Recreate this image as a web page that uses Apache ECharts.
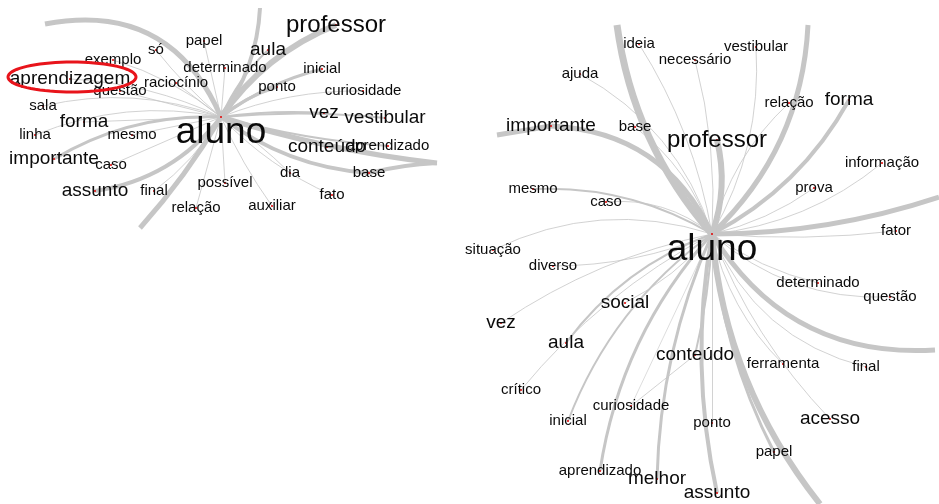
<!DOCTYPE html>
<html><head><meta charset="utf-8">
<script src="https://cdn.jsdelivr.net/npm/echarts@6/dist/echarts.min.js"></script>
<style>html,body{margin:0;padding:0;background:#fff}#c{width:939px;height:504px}</style>
</head><body><div id="c"></div>
<script>
// ===== Graph 1 (left, cropped) =====
const words1 = ['aluno','professor','papel','só','aula','exemplo','determinado','inicial','aprendizagem','raciocínio','questão','ponto','curiosidade','sala','forma','vez','vestibular','linha','mesmo','conteúdo','aprendizado','importante','caso','dia','base','possível','assunto','final','fato','relação','auxiliar'];
const x1 = [221,336,204,156,268,113,225,322,70,176,120,277,363,43,84,324,385,35,132,327,388,54,111,290,369,225,95,154,332,196,272];
const y1 = [117,25,41,50,50,60,68,69,79,83,91,87,91,106,122,113,118,135,135,147,146,159,165,173,173,183,191,191,195,208,206];
const freq1 = [4,3,1,1,2,1,1,1,2,1,1,1,1,1,2,2,2,1,1,2,1,2,1,1,1,1,2,1,1,1,1];
// edge ends leaving the cropped frame
const exitX1 = [45,140,260,437];
const exitY1 = [24,228,8,163];
const src1 = ['aluno','aluno','aluno','aluno','aluno','aluno','aluno','aluno','aluno','aluno','aluno','aluno','aluno','aluno','aluno','aluno','aluno','aluno','aluno','aluno','aluno','aluno','aluno','aluno','aluno','aluno','aluno','aluno','aluno','aluno','aluno','aluno','aluno','aluno','base'];
const dst1 = ['E0','E1','E2','E3','professor','papel','só','aula','exemplo','determinado','inicial','aprendizagem','raciocínio','questão','ponto','curiosidade','sala','forma','vez','vestibular','linha','mesmo','conteúdo','aprendizado','importante','caso','dia','base','possível','assunto','final','fato','relação','auxiliar','E3'];
const wgt1 = [5,5,4,5,6,1,1,2,1,1,3,1,1,1,3,1,1,1,2,2,1,1,2,2,3,1,1,4,1,4,1,1,1,1,4];

// ===== Graph 2 (right) =====
const words2 = ['aluno','ideia','vestibular','necessário','ajuda','relação','forma','importante','base','professor','informação','mesmo','caso','prova','fator','situação','diverso','determinado','questão','social','vez','aula','conteúdo','ferramenta','final','crítico','curiosidade','inicial','ponto','acesso','papel','aprendizado','melhor','assunto'];
const x2 = [712,639,756,695,580,789,849,551,635,717,882,533,606,814,896,493,553,818,890,625,501,566,695,783,866,521,631,568,712,830,774,600,657,717];
const y2 = [234,44,47,60,74,103,100,126,127,140,163,189,202,188,231,250,266,283,297,303,323,343,355,364,367,390,406,421,423,419,452,471,479,493];
const freq2 = [4,1,1,1,1,1,2,2,1,3,1,1,1,1,1,1,1,1,1,2,2,2,2,1,1,1,1,1,1,2,1,1,2,2];
const exitX2 = [617,808,497,939,935,820];
const exitY2 = [25,25,135,197,350,504];
const src2 = ['aluno','aluno','aluno','aluno','aluno','aluno','aluno','aluno','aluno','aluno','aluno','aluno','aluno','importante','aluno','aluno','aluno','aluno','aluno','aluno','aluno','aluno','aluno','aluno','aluno','aluno','aluno','aluno','aluno','aluno','aluno','aluno','conteúdo','aluno','aluno','aluno','aluno','aluno','aluno','aluno'];
const dst2 = ['E0','E1','E3','E4','E5','ideia','vestibular','necessário','ajuda','relação','forma','importante','base','E2','professor','informação','prova','fator','mesmo','caso','situação','diverso','determinado','questão','social','vez','aula','conteúdo','ferramenta','final','crítico','curiosidade','curiosidade','inicial','ponto','acesso','papel','aprendizado','melhor','assunto'];
const wgt2 = [7,5,5,5,6,1,1,1,1,1,4,5,1,5,6,1,1,1,2,1,1,1,1,1,1,1,2,2,1,1,1,0,1,2,1,1,3,3,3,4];

// ===== styling (not data) =====
const bend1 = [-0.4,0.05,-0.15,-0.05,0.15,0,0.05,0.1,-0.1,0,0.1,-0.1,0,0,0.1,0.1,-0.15,0,0.05,0.05,-0.15,0,0,-0.05,-0.15,0,0.05,-0.15,0,0.2,0.1,-0.1,0,-0.05,0.05];
const bend2 = [0.15,-0.2,-0.08,-0.3,-0.15,-0.1,-0.15,-0.08,-0.2,0.15,-0.15,-0.3,-0.15,0,-0.15,-0.15,-0.1,-0.05,-0.15,-0.2,-0.2,0.1,-0.1,-0.2,0.1,-0.1,-0.15,0.05,-0.15,-0.25,-0.1,0,0,-0.15,0,-0.1,-0.1,-0.15,-0.1,-0.1];
const FONT = [0,15,19,24,37];
const WIDTH = [0.6,0.8,2,3,4,5,6,7];
const EDGE = '#c6c6c6';
const CENTER_LABEL_SHIFT = 16;

function buildSeries(words, xs, ys, freq, ex, ey, src, dst, wgt, bend) {
  const nodes = words.map((w, i) => ({
    name: w, value: [xs[i], ys[i]],
    label: { show: true, fontSize: FONT[freq[i]], offset: [0, freq[i] === 4 ? CENTER_LABEL_SHIFT : 0] }
  }));
  ex.forEach((x, i) => nodes.push({ name: 'E' + i, value: [x, ey[i]], symbolSize: 0, label: { show: false } }));
  const links = src.map((s, i) => ({
    source: s, target: dst[i],
    lineStyle: { width: WIDTH[wgt[i]], curveness: bend[i], color: EDGE, opacity: 1 }
  }));
  return {
    type: 'graph', coordinateSystem: 'cartesian2d', xAxisIndex: 0, yAxisIndex: 0,
    layout: 'none', silent: true, animation: false,
    symbol: 'circle', symbolSize: 2, itemStyle: { color: '#e00000' },
    label: { show: true, position: 'inside', color: '#0a0a0a', fontFamily: '"Liberation Sans", Arial, sans-serif' },
    emphasis: { disabled: true },
    data: nodes, links: links
  };
}

// highlight ellipse (annotation)
const ell = { cx: 72, cy: 77, rx: 64, ry: 15 };
const ellPts = [];
for (let k = 0; k < 72; k++) { const t = k / 72 * Math.PI * 2; ellPts.push([ell.cx + ell.rx * Math.cos(t), ell.cy + ell.ry * Math.sin(t)]); }

const chart = echarts.init(document.getElementById('c'), null, { renderer: 'canvas' });
chart.setOption({
  animation: false,
  backgroundColor: '#fff',
  grid: { left: 0, right: 0, top: 0, bottom: 0 },
  xAxis: { type: 'value', min: 0, max: 939, show: false },
  yAxis: { type: 'value', min: 0, max: 504, inverse: true, show: false },
  series: [
    buildSeries(words1, x1, y1, freq1, exitX1, exitY1, src1, dst1, wgt1, bend1),
    buildSeries(words2, x2, y2, freq2, exitX2, exitY2, src2, dst2, wgt2, bend2)
  ],
  graphic: [{
    type: 'polygon', z: 100, silent: true,
    shape: { points: ellPts },
    style: { fill: 'none', stroke: '#e8141b', lineWidth: 3 }
  }]
});
</script></body></html>
